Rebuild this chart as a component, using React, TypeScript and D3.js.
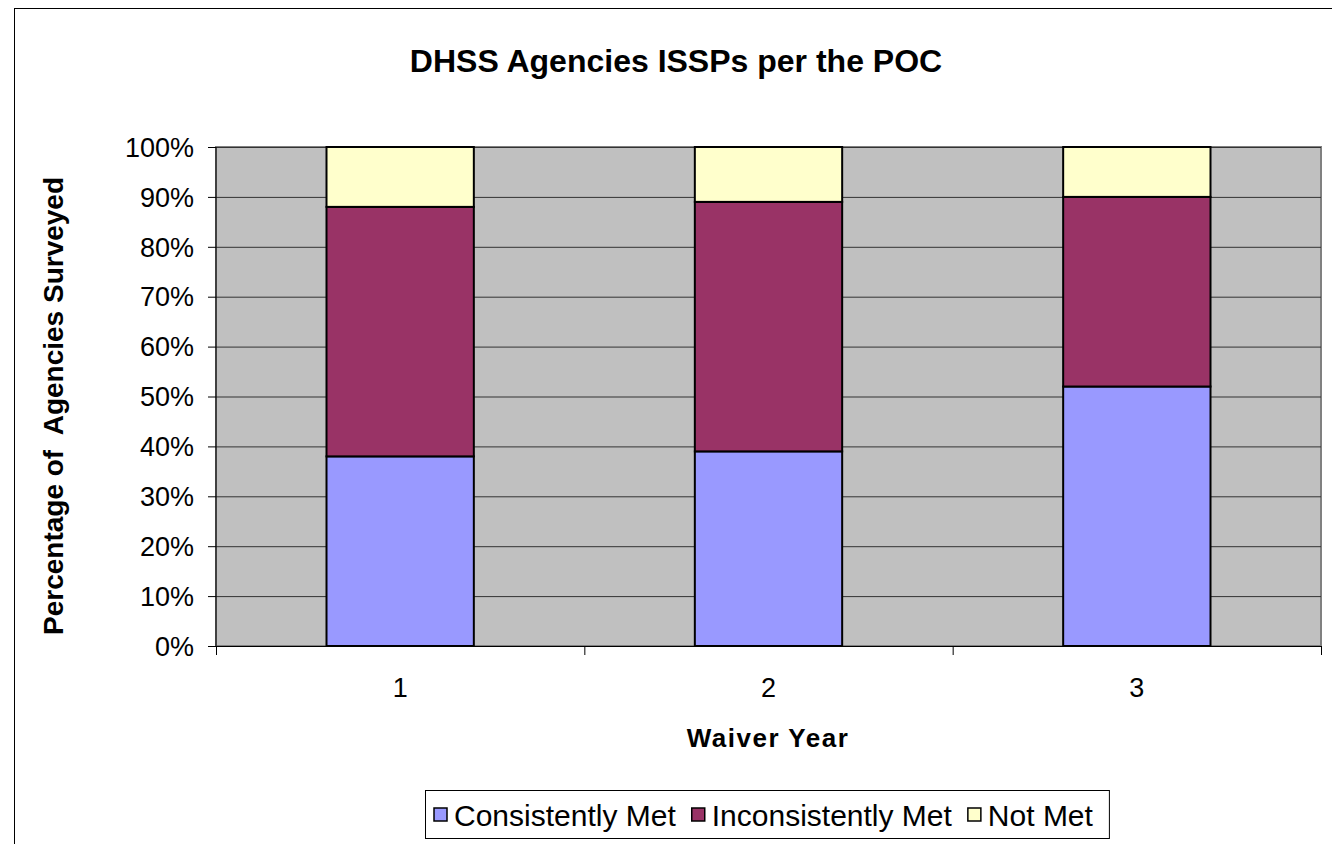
import { useRef, useEffect } from "react";
import * as d3 from "d3";

const years = ["1", "2", "3"];
const seriesNames = ["Consistently Met", "Inconsistently Met", "Not Met"];
const consistentlyMet = [38, 39, 52];
const inconsistentlyMet = [50, 50, 38];
const notMet = [12, 11, 10];
const colors = ["#9999ff", "#993366", "#ffffcc"];
const yTicks = [0, 10, 20, 30, 40, 50, 60, 70, 80, 90, 100];

export default function App() {
  const svgRef = useRef<SVGSVGElement | null>(null);

  useEffect(() => {
    const svg = d3.select(svgRef.current);
    svg.selectAll("*").remove();
    const width = 1332;
    const height = 844;
    svg.attr("width", width).attr("height", height);

    const font = "Arial, 'Liberation Sans', sans-serif";
    const plot = { left: 216, right: 1321, top: 147, bottom: 646 };

    // outer frame
    svg
      .append("rect")
      .attr("x", 14.5)
      .attr("y", 8.5)
      .attr("width", width + 10)
      .attr("height", height + 10)
      .attr("fill", "#fff")
      .attr("stroke", "#000")
      .attr("stroke-width", 1);

    const x = d3
      .scaleBand()
      .domain(years)
      .range([plot.left, plot.right])
      .paddingInner(0.6)
      .paddingOuter(0.3);
    const band = (plot.right - plot.left) / years.length;
    const y = d3.scaleLinear().domain([0, 100]).range([plot.bottom, plot.top]);

    svg
      .append("rect")
      .attr("x", plot.left)
      .attr("y", plot.top)
      .attr("width", plot.right - plot.left)
      .attr("height", plot.bottom - plot.top)
      .attr("fill", "#c0c0c0")
      .attr("stroke", "#808080")
      .attr("stroke-width", 2);

    svg
      .append("g")
      .selectAll("line")
      .data(yTicks.slice(1))
      .join("line")
      .attr("x1", plot.left)
      .attr("x2", plot.right)
      .attr("y1", (d) => y(d) + 0.5)
      .attr("y2", (d) => y(d) + 0.5)
      .attr("stroke", "#333")
      .attr("stroke-width", 1);

    const rows = years.map((yr, i) => ({
      year: yr,
      "Consistently Met": consistentlyMet[i],
      "Inconsistently Met": inconsistentlyMet[i],
      "Not Met": notMet[i],
    }));
    const stacked = d3.stack<any>().keys(seriesNames)(rows);

    stacked.forEach((layer, si) => {
      svg
        .append("g")
        .selectAll("rect")
        .data(layer)
        .join("rect")
        .attr("x", (d: any) => x(d.data.year)!)
        .attr("width", x.bandwidth())
        .attr("y", (d) => y(d[1]))
        .attr("height", (d) => y(d[0]) - y(d[1]))
        .attr("fill", colors[si])
        .attr("stroke", "#000")
        .attr("stroke-width", 2);
    });

    // axes
    svg
      .append("line")
      .attr("x1", plot.left)
      .attr("x2", plot.left)
      .attr("y1", plot.top)
      .attr("y2", plot.bottom)
      .attr("stroke", "#000");
    svg
      .append("line")
      .attr("x1", plot.left)
      .attr("x2", plot.right)
      .attr("y1", plot.bottom + 0.5)
      .attr("y2", plot.bottom + 0.5)
      .attr("stroke", "#000");

    const yAxis = svg.append("g");
    yAxis
      .selectAll("line")
      .data(yTicks)
      .join("line")
      .attr("x1", plot.left - 8)
      .attr("x2", plot.left)
      .attr("y1", (d) => y(d) + 0.5)
      .attr("y2", (d) => y(d) + 0.5)
      .attr("stroke", "#000");
    yAxis
      .selectAll("text")
      .data(yTicks)
      .join("text")
      .attr("x", plot.left - 22)
      .attr("y", (d) => y(d))
      .attr("dy", "0.36em")
      .attr("text-anchor", "end")
      .attr("font-family", font)
      .attr("font-size", 27)
      .text((d) => `${d}%`);

    const xAxis = svg.append("g");
    xAxis
      .selectAll("line")
      .data(d3.range(years.length + 1))
      .join("line")
      .attr("x1", (i) => plot.left + i * band + 0.5)
      .attr("x2", (i) => plot.left + i * band + 0.5)
      .attr("y1", plot.bottom)
      .attr("y2", plot.bottom + 9)
      .attr("stroke", "#000");
    xAxis
      .selectAll("text")
      .data(years)
      .join("text")
      .attr("x", (d) => x(d)! + x.bandwidth() / 2)
      .attr("y", 697)
      .attr("text-anchor", "middle")
      .attr("font-family", font)
      .attr("font-size", 27)
      .text((d) => d);

    svg
      .append("text")
      .attr("x", 676)
      .attr("y", 72)
      .attr("text-anchor", "middle")
      .attr("font-family", font)
      .attr("font-size", 32)
      .attr("font-weight", "bold")
      .text("DHSS Agencies ISSPs per the POC");

    svg
      .append("text")
      .attr("x", 768)
      .attr("y", 747)
      .attr("text-anchor", "middle")
      .attr("font-family", font)
      .attr("font-size", 26)
      .attr("font-weight", "bold")
      .attr("letter-spacing", 1.5)
      .text("Waiver Year");

    svg
      .append("text")
      .attr("transform", `translate(63,406) rotate(-90)`)
      .attr("text-anchor", "middle")
      .attr("font-family", font)
      .attr("font-size", 28)
      .attr("font-weight", "bold")
      .style("white-space", "pre")
      .text("Percentage of  Agencies Surveyed");

    // legend
    const legend = svg.append("g");
    const box = legend
      .append("rect")
      .attr("x", 425.5)
      .attr("y", 790.5)
      .attr("height", 48)
      .attr("fill", "#fff")
      .attr("stroke", "#000");
    let cx = 434;
    seriesNames.forEach((name, i) => {
      legend
        .append("rect")
        .attr("x", cx)
        .attr("y", 808)
        .attr("width", 13)
        .attr("height", 13)
        .attr("fill", colors[i])
        .attr("stroke", "#000")
        .attr("stroke-width", 1.5);
      const t = legend
        .append("text")
        .attr("x", cx + 20)
        .attr("y", 815)
        .attr("dy", "0.36em")
        .attr("font-family", font)
        .attr("font-size", 30)
        .text(name);
      const w = (t.node() as SVGTextElement).getComputedTextLength();
      cx += 20 + w + 16;
    });
    box.attr("width", cx - 425);
  }, []);

  return (
    <div style={{ position: "absolute", top: 0, left: 0, width: 1332, height: 844, overflow: "hidden" }}>
      <svg ref={svgRef} style={{ position: "absolute", top: 0, left: 0 }} />
    </div>
  );
}
